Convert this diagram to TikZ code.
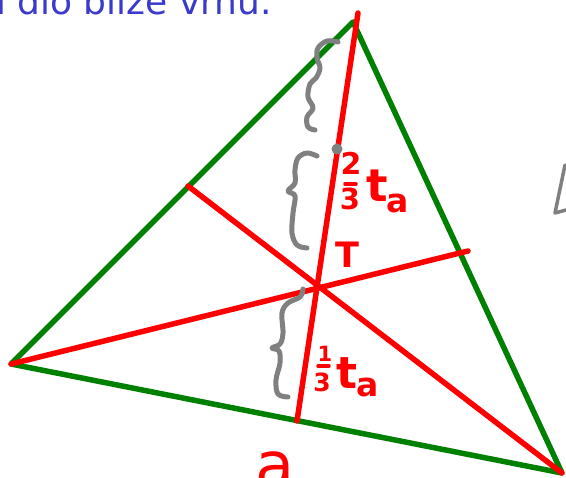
\documentclass[tikz,border=0pt]{standalone}
\usepackage{fontspec}
\setmainfont{DejaVu Sans}
\definecolor{tgreen}{RGB}{0,128,0}
\definecolor{tred}{RGB}{255,0,0}
\definecolor{tblue}{RGB}{58,58,204}
\definecolor{tgray}{RGB}{128,128,128}
\begin{document}
\begin{tikzpicture}[x=1pt,y=-1pt,
  side/.style={draw=tgreen,line width=5.5pt,line join=round,line cap=round},
  median/.style={draw=tred,line width=5.5pt,line cap=round},
  hbrace/.style={draw=tgray,line width=5pt,line cap=round,line join=round},
  lbl/.style={text=tred,inner sep=0pt,outer sep=0pt},
  fbar/.style={draw=tred,line width=3.5pt,line cap=round}]
\useasboundingbox (0,0) rectangle (566,478);
\fill[white] (0,0) rectangle (566,478);
% heading
\node[text=tblue,font=\fontsize{36}{40}\selectfont,anchor=base west,inner sep=0pt] (head) at (-4,14.5) {i dio bliže vrhu.};
% vertices and feet of medians
\coordinate (A) at (353,22);
\coordinate (B) at (11,364);
\coordinate (C) at (562,473);
\coordinate (Atop) at (358,13);
\coordinate (Ma) at (297,421);
\coordinate (Mb) at (468,251);
\coordinate (Mc) at (188,186);
\coordinate (T) at (317,288);
% triangle
\draw[side] (B) -- (A) -- (C) -- cycle;
% medians
\draw[median] (Atop) -- (Ma);
\draw[median] (B) -- (Mb);
\draw[median] (C) -- (Mc);
% gray braces
\draw[hbrace] plot[smooth,tension=0.6] coordinates {(338,42) (327,41) (318,48) (317,58) (320,68) (316,78) (310,84) (308,97) (313,108) (307,117) (308,127) (315,130)};
\fill[tgray] (337,149) circle (5.5);
\draw[hbrace] plot[smooth,tension=0.6] coordinates {(317,156) (307,153) (298,158) (295,170) (295,183) (288,191) (295,196) (293,213) (292,233) (297,245) (307,248)};
\draw[hbrace] plot[smooth,tension=0.6] coordinates {(303,289) (300,297) (288,303) (282,313) (283,333) (280,344) (272,348) (279,351) (280,363) (276,380) (278,394) (288,397)};
\draw[draw=tgray,line width=3.5pt,line cap=round,line join=round] (565,165) -- (555,213) -- (566,210);
% labels
\node[lbl,font=\bfseries\fontsize{30}{30}\selectfont] (n2) at (351,163) {2};
\draw[fbar] (345,184) -- (356,184);
\node[lbl,font=\bfseries\fontsize{29}{30}\selectfont] (n3a) at (350,199) {3};
\node[lbl,font=\bfseries\fontsize{45}{46}\selectfont] (t1) at (377,186) {t};
\node[lbl,font=\bfseries\fontsize{33}{36}\selectfont] (a1) at (398,203) {a};
\node[lbl,font=\bfseries\fontsize{35}{36}\selectfont] (Tl) at (347,255) {T};
\node[lbl,font=\bfseries\fontsize{21}{21}\selectfont] (n1) at (325,354) {1};
\draw[fbar] (318,366) -- (329,366);
\node[lbl,font=\bfseries\fontsize{25}{25}\selectfont] (n3b) at (322,382) {3};
\node[lbl,font=\bfseries\fontsize{44}{44}\selectfont] (t2) at (347,373) {t};
\node[lbl,font=\bfseries\fontsize{33}{36}\selectfont] (a2) at (368,387) {a};
\node[lbl,font=\fontsize{64}{66}\selectfont] (sidea) at (275,470) {a};
\end{tikzpicture}
\end{document}
